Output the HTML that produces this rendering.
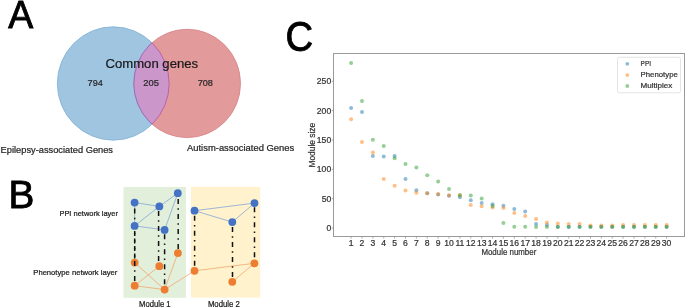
<!DOCTYPE html>
<html><head><meta charset="utf-8"><style>
html,body{margin:0;padding:0;background:#fff;width:685px;height:308px;overflow:hidden}
svg{display:block;font-family:"Liberation Sans", sans-serif}
text{-webkit-font-smoothing:antialiased}
svg{will-change:transform}
</style></head><body>
<svg width="685" height="308" viewBox="0 0 685 308">
<text x="8.3" y="28.2" font-size="39.6" fill="#000" stroke="#000" stroke-width="0.9" textLength="25.0" lengthAdjust="spacingAndGlyphs">A</text>
<ellipse cx="113.25" cy="83.5" rx="55.9" ry="56.65" fill="#9fc5e0" stroke="#86b3d6" stroke-width="0.9"/>
<ellipse cx="187.15" cy="83.45" rx="53.35" ry="54.15" fill="#e39a9b" stroke="#d8868b" stroke-width="0.9"/>
<clipPath id="cb"><ellipse cx="113.25" cy="83.5" rx="55.9" ry="56.65" /></clipPath>
<clipPath id="cr"><ellipse cx="187.15" cy="83.45" rx="53.35" ry="54.15" /></clipPath>
<ellipse cx="187.15" cy="83.45" rx="53.35" ry="54.15" fill="#cb97cb" clip-path="url(#cb)"/>
<g clip-path="url(#cb)"><ellipse cx="187.15" cy="83.45" rx="53.35" ry="54.15" fill="none" stroke="#8a6cc6" stroke-width="0.9"/></g>
<g clip-path="url(#cr)"><ellipse cx="113.25" cy="83.5" rx="55.9" ry="56.65" fill="none" stroke="#b95aa6" stroke-width="0.9"/></g>
<text x="105.5" y="67.7" font-size="12" fill="#1a1a1a" text-anchor="start" textLength="92.6" lengthAdjust="spacingAndGlyphs" stroke="#1a1a1a" stroke-width="0.22" >Common genes</text>
<text x="87.6" y="86.1" font-size="8.9" fill="#262626" text-anchor="start" textLength="15.2" lengthAdjust="spacingAndGlyphs" stroke="#262626" stroke-width="0.22" >794</text>
<text x="143.3" y="86.1" font-size="8.9" fill="#262626" text-anchor="start" textLength="15.6" lengthAdjust="spacingAndGlyphs" stroke="#262626" stroke-width="0.22" >205</text>
<text x="197.7" y="86.1" font-size="8.9" fill="#262626" text-anchor="start" textLength="15.2" lengthAdjust="spacingAndGlyphs" stroke="#262626" stroke-width="0.22" >708</text>
<text x="0.6" y="152.9" font-size="9" fill="#262626" text-anchor="start" textLength="112.4" lengthAdjust="spacingAndGlyphs" stroke="#262626" stroke-width="0.22" >Epilepsy-associated Genes</text>
<text x="187.0" y="150.6" font-size="9" fill="#262626" text-anchor="start" textLength="107.2" lengthAdjust="spacingAndGlyphs" stroke="#262626" stroke-width="0.22" >Autism-associated Genes</text>
<text x="8.5" y="208.2" font-size="38.8" fill="#000" stroke="#000" stroke-width="0.9">B</text>
<rect x="123.5" y="186.9" width="62.4" height="110.9" fill="#e2efda"/>
<rect x="191.05" y="186.9" width="69.2" height="110.7" fill="#fff2cc"/>
<text x="59.4" y="215.7" font-size="7.6" fill="#1a1a1a" text-anchor="start" textLength="58.6" lengthAdjust="spacingAndGlyphs" stroke="#1a1a1a" stroke-width="0.22" >PPI network layer</text>
<text x="33.3" y="274.8" font-size="7.6" fill="#1a1a1a" text-anchor="start" textLength="84.0" lengthAdjust="spacingAndGlyphs" stroke="#1a1a1a" stroke-width="0.22" >Phenotype network layer</text>
<text x="139.0" y="306.6" font-size="8.6" fill="#1a1a1a" text-anchor="start" textLength="31.6" lengthAdjust="spacingAndGlyphs" stroke="#1a1a1a" stroke-width="0.22" >Module 1</text>
<text x="207.9" y="306.7" font-size="8.6" fill="#1a1a1a" text-anchor="start" textLength="32.0" lengthAdjust="spacingAndGlyphs" stroke="#1a1a1a" stroke-width="0.22" >Module 2</text>
<line x1="134.6" y1="202.6" x2="159.35" y2="206.4" stroke="#7fa2d8" stroke-width="0.75"/>
<line x1="159.35" y1="206.4" x2="177.8" y2="193.2" stroke="#7fa2d8" stroke-width="0.75"/>
<line x1="134.6" y1="202.6" x2="134.6" y2="225.9" stroke="#7fa2d8" stroke-width="0.75"/>
<line x1="159.35" y1="206.4" x2="134.6" y2="225.9" stroke="#7fa2d8" stroke-width="0.75"/>
<line x1="134.6" y1="225.9" x2="164.6" y2="229.9" stroke="#7fa2d8" stroke-width="0.75"/>
<line x1="177.8" y1="193.2" x2="164.6" y2="229.9" stroke="#7fa2d8" stroke-width="0.75"/>
<line x1="194.5" y1="210.7" x2="254.5" y2="203.1" stroke="#7fa2d8" stroke-width="0.75"/>
<line x1="194.5" y1="210.7" x2="232.3" y2="222.1" stroke="#7fa2d8" stroke-width="0.75"/>
<line x1="232.3" y1="222.1" x2="254.5" y2="203.1" stroke="#7fa2d8" stroke-width="0.75"/>
<line x1="134.7" y1="262.6" x2="164.6" y2="289.6" stroke="#f0a46c" stroke-width="0.75"/>
<line x1="134.7" y1="285.7" x2="159.3" y2="266.2" stroke="#f0a46c" stroke-width="0.75"/>
<line x1="134.7" y1="285.7" x2="164.6" y2="289.6" stroke="#f0a46c" stroke-width="0.75"/>
<line x1="177.9" y1="253.1" x2="164.6" y2="289.6" stroke="#f0a46c" stroke-width="0.75"/>
<line x1="164.6" y1="289.6" x2="194.5" y2="270.8" stroke="#f0a46c" stroke-width="0.75"/>
<line x1="194.5" y1="270.8" x2="254.4" y2="263.3" stroke="#f0a46c" stroke-width="0.75"/>
<line x1="232.3" y1="281.8" x2="254.4" y2="263.3" stroke="#f0a46c" stroke-width="0.75"/>
<line x1="134.7" y1="208.4" x2="134.7" y2="262.6" stroke="#111" stroke-width="1.5" stroke-dasharray="5 4.25 1.5 4.25" stroke-dashoffset="0.00"/>
<line x1="134.7" y1="231.0" x2="134.7" y2="285.7" stroke="#111" stroke-width="1.5" stroke-dasharray="5 4.25 1.5 4.25" stroke-dashoffset="0.00"/>
<line x1="158.6" y1="211.1" x2="158.6" y2="266.2" stroke="#111" stroke-width="1.5" stroke-dasharray="5 4.25 1.5 4.25" stroke-dashoffset="0.00"/>
<line x1="178.2" y1="199.1" x2="178.2" y2="253.1" stroke="#111" stroke-width="1.5" stroke-dasharray="5 4.25 1.5 4.25" stroke-dashoffset="0.00"/>
<line x1="164.6" y1="234.2" x2="164.6" y2="289.6" stroke="#111" stroke-width="1.5" stroke-dasharray="5 4.25 1.5 4.25" stroke-dashoffset="0.00"/>
<line x1="194.6" y1="215.7" x2="194.6" y2="270.8" stroke="#111" stroke-width="1.5" stroke-dasharray="5 4.25 1.5 4.25" stroke-dashoffset="0.00"/>
<line x1="232.5" y1="227.1" x2="232.5" y2="281.8" stroke="#111" stroke-width="1.5" stroke-dasharray="5 4.25 1.5 4.25" stroke-dashoffset="0.00"/>
<line x1="254.5" y1="207.3" x2="254.5" y2="263.3" stroke="#111" stroke-width="1.5" stroke-dasharray="5 4.25 1.5 4.25" stroke-dashoffset="0.00"/>
<circle cx="134.7" cy="262.6" r="3.9" fill="#ed7d31"/>
<circle cx="159.3" cy="266.2" r="3.9" fill="#ed7d31"/>
<circle cx="177.9" cy="253.1" r="3.9" fill="#ed7d31"/>
<circle cx="134.7" cy="285.7" r="3.9" fill="#ed7d31"/>
<circle cx="164.6" cy="289.6" r="3.9" fill="#ed7d31"/>
<circle cx="194.5" cy="270.8" r="3.9" fill="#ed7d31"/>
<circle cx="232.3" cy="281.8" r="3.9" fill="#ed7d31"/>
<circle cx="254.4" cy="263.3" r="3.9" fill="#ed7d31"/>
<line x1="134.7" y1="258.0" x2="134.7" y2="267.0" stroke="#111" stroke-width="1.5" stroke-dasharray="5 4.25 1.5 4.25" stroke-dashoffset="12.00"/>
<circle cx="134.6" cy="202.6" r="3.9" fill="#4472c4"/>
<circle cx="159.35" cy="206.4" r="3.9" fill="#4472c4"/>
<circle cx="177.8" cy="193.2" r="3.9" fill="#4472c4"/>
<circle cx="134.6" cy="225.9" r="3.9" fill="#4472c4"/>
<circle cx="164.6" cy="229.9" r="3.9" fill="#4472c4"/>
<circle cx="194.5" cy="210.7" r="3.9" fill="#4472c4"/>
<circle cx="232.3" cy="222.1" r="3.9" fill="#4472c4"/>
<circle cx="254.5" cy="203.1" r="3.9" fill="#4472c4"/>
<text x="285.4" y="50.8" font-size="42.2" fill="#000" stroke="#000" stroke-width="0.9" textLength="27.6" lengthAdjust="spacingAndGlyphs">C</text>
<rect x="333.5" y="53.5" width="351" height="183" fill="none" stroke="#9a9a9a" stroke-width="1"/>
<line x1="331.8" y1="228.00" x2="333.5" y2="228.00" stroke="#888" stroke-width="0.8"/>
<text x="331.2" y="230.9" font-size="8.6" fill="#333" text-anchor="end" stroke="#333" stroke-width="0.22" >0</text>
<line x1="331.8" y1="198.66" x2="333.5" y2="198.66" stroke="#888" stroke-width="0.8"/>
<text x="331.2" y="201.56" font-size="8.6" fill="#333" text-anchor="end" stroke="#333" stroke-width="0.22" >50</text>
<line x1="331.8" y1="169.32" x2="333.5" y2="169.32" stroke="#888" stroke-width="0.8"/>
<text x="331.2" y="172.22" font-size="8.6" fill="#333" text-anchor="end" stroke="#333" stroke-width="0.22" >100</text>
<line x1="331.8" y1="139.98" x2="333.5" y2="139.98" stroke="#888" stroke-width="0.8"/>
<text x="331.2" y="142.88000000000002" font-size="8.6" fill="#333" text-anchor="end" stroke="#333" stroke-width="0.22" >150</text>
<line x1="331.8" y1="110.64" x2="333.5" y2="110.64" stroke="#888" stroke-width="0.8"/>
<text x="331.2" y="113.54" font-size="8.6" fill="#333" text-anchor="end" stroke="#333" stroke-width="0.22" >200</text>
<line x1="331.8" y1="81.30" x2="333.5" y2="81.30" stroke="#888" stroke-width="0.8"/>
<text x="331.2" y="84.20000000000002" font-size="8.6" fill="#333" text-anchor="end" stroke="#333" stroke-width="0.22" >250</text>
<line x1="351.10" y1="236.5" x2="351.10" y2="238.6" stroke="#999" stroke-width="0.8"/>
<text x="351.1" y="245.9" font-size="8.6" fill="#333" text-anchor="middle" stroke="#333" stroke-width="0.22" >1</text>
<line x1="361.98" y1="236.5" x2="361.98" y2="238.6" stroke="#999" stroke-width="0.8"/>
<text x="361.98" y="245.9" font-size="8.6" fill="#333" text-anchor="middle" stroke="#333" stroke-width="0.22" >2</text>
<line x1="372.86" y1="236.5" x2="372.86" y2="238.6" stroke="#999" stroke-width="0.8"/>
<text x="372.86" y="245.9" font-size="8.6" fill="#333" text-anchor="middle" stroke="#333" stroke-width="0.22" >3</text>
<line x1="383.74" y1="236.5" x2="383.74" y2="238.6" stroke="#999" stroke-width="0.8"/>
<text x="383.74" y="245.9" font-size="8.6" fill="#333" text-anchor="middle" stroke="#333" stroke-width="0.22" >4</text>
<line x1="394.62" y1="236.5" x2="394.62" y2="238.6" stroke="#999" stroke-width="0.8"/>
<text x="394.62" y="245.9" font-size="8.6" fill="#333" text-anchor="middle" stroke="#333" stroke-width="0.22" >5</text>
<line x1="405.50" y1="236.5" x2="405.50" y2="238.6" stroke="#999" stroke-width="0.8"/>
<text x="405.5" y="245.9" font-size="8.6" fill="#333" text-anchor="middle" stroke="#333" stroke-width="0.22" >6</text>
<line x1="416.38" y1="236.5" x2="416.38" y2="238.6" stroke="#999" stroke-width="0.8"/>
<text x="416.38" y="245.9" font-size="8.6" fill="#333" text-anchor="middle" stroke="#333" stroke-width="0.22" >7</text>
<line x1="427.26" y1="236.5" x2="427.26" y2="238.6" stroke="#999" stroke-width="0.8"/>
<text x="427.26" y="245.9" font-size="8.6" fill="#333" text-anchor="middle" stroke="#333" stroke-width="0.22" >8</text>
<line x1="438.14" y1="236.5" x2="438.14" y2="238.6" stroke="#999" stroke-width="0.8"/>
<text x="438.14" y="245.9" font-size="8.6" fill="#333" text-anchor="middle" stroke="#333" stroke-width="0.22" >9</text>
<line x1="449.02" y1="236.5" x2="449.02" y2="238.6" stroke="#999" stroke-width="0.8"/>
<text x="449.02" y="245.9" font-size="8.6" fill="#333" text-anchor="middle" stroke="#333" stroke-width="0.22" >10</text>
<line x1="459.90" y1="236.5" x2="459.90" y2="238.6" stroke="#999" stroke-width="0.8"/>
<text x="459.9" y="245.9" font-size="8.6" fill="#333" text-anchor="middle" stroke="#333" stroke-width="0.22" >11</text>
<line x1="470.78" y1="236.5" x2="470.78" y2="238.6" stroke="#999" stroke-width="0.8"/>
<text x="470.78" y="245.9" font-size="8.6" fill="#333" text-anchor="middle" stroke="#333" stroke-width="0.22" >12</text>
<line x1="481.66" y1="236.5" x2="481.66" y2="238.6" stroke="#999" stroke-width="0.8"/>
<text x="481.66" y="245.9" font-size="8.6" fill="#333" text-anchor="middle" stroke="#333" stroke-width="0.22" >13</text>
<line x1="492.54" y1="236.5" x2="492.54" y2="238.6" stroke="#999" stroke-width="0.8"/>
<text x="492.54" y="245.9" font-size="8.6" fill="#333" text-anchor="middle" stroke="#333" stroke-width="0.22" >14</text>
<line x1="503.42" y1="236.5" x2="503.42" y2="238.6" stroke="#999" stroke-width="0.8"/>
<text x="503.42" y="245.9" font-size="8.6" fill="#333" text-anchor="middle" stroke="#333" stroke-width="0.22" >15</text>
<line x1="514.30" y1="236.5" x2="514.30" y2="238.6" stroke="#999" stroke-width="0.8"/>
<text x="514.3" y="245.9" font-size="8.6" fill="#333" text-anchor="middle" stroke="#333" stroke-width="0.22" >16</text>
<line x1="525.18" y1="236.5" x2="525.18" y2="238.6" stroke="#999" stroke-width="0.8"/>
<text x="525.18" y="245.9" font-size="8.6" fill="#333" text-anchor="middle" stroke="#333" stroke-width="0.22" >17</text>
<line x1="536.06" y1="236.5" x2="536.06" y2="238.6" stroke="#999" stroke-width="0.8"/>
<text x="536.06" y="245.9" font-size="8.6" fill="#333" text-anchor="middle" stroke="#333" stroke-width="0.22" >18</text>
<line x1="546.94" y1="236.5" x2="546.94" y2="238.6" stroke="#999" stroke-width="0.8"/>
<text x="546.94" y="245.9" font-size="8.6" fill="#333" text-anchor="middle" stroke="#333" stroke-width="0.22" >19</text>
<line x1="557.82" y1="236.5" x2="557.82" y2="238.6" stroke="#999" stroke-width="0.8"/>
<text x="557.82" y="245.9" font-size="8.6" fill="#333" text-anchor="middle" stroke="#333" stroke-width="0.22" >20</text>
<line x1="568.70" y1="236.5" x2="568.70" y2="238.6" stroke="#999" stroke-width="0.8"/>
<text x="568.7" y="245.9" font-size="8.6" fill="#333" text-anchor="middle" stroke="#333" stroke-width="0.22" >21</text>
<line x1="579.58" y1="236.5" x2="579.58" y2="238.6" stroke="#999" stroke-width="0.8"/>
<text x="579.58" y="245.9" font-size="8.6" fill="#333" text-anchor="middle" stroke="#333" stroke-width="0.22" >22</text>
<line x1="590.46" y1="236.5" x2="590.46" y2="238.6" stroke="#999" stroke-width="0.8"/>
<text x="590.46" y="245.9" font-size="8.6" fill="#333" text-anchor="middle" stroke="#333" stroke-width="0.22" >23</text>
<line x1="601.34" y1="236.5" x2="601.34" y2="238.6" stroke="#999" stroke-width="0.8"/>
<text x="601.34" y="245.9" font-size="8.6" fill="#333" text-anchor="middle" stroke="#333" stroke-width="0.22" >24</text>
<line x1="612.22" y1="236.5" x2="612.22" y2="238.6" stroke="#999" stroke-width="0.8"/>
<text x="612.22" y="245.9" font-size="8.6" fill="#333" text-anchor="middle" stroke="#333" stroke-width="0.22" >25</text>
<line x1="623.10" y1="236.5" x2="623.10" y2="238.6" stroke="#999" stroke-width="0.8"/>
<text x="623.1" y="245.9" font-size="8.6" fill="#333" text-anchor="middle" stroke="#333" stroke-width="0.22" >26</text>
<line x1="633.98" y1="236.5" x2="633.98" y2="238.6" stroke="#999" stroke-width="0.8"/>
<text x="633.98" y="245.9" font-size="8.6" fill="#333" text-anchor="middle" stroke="#333" stroke-width="0.22" >27</text>
<line x1="644.86" y1="236.5" x2="644.86" y2="238.6" stroke="#999" stroke-width="0.8"/>
<text x="644.86" y="245.9" font-size="8.6" fill="#333" text-anchor="middle" stroke="#333" stroke-width="0.22" >28</text>
<line x1="655.74" y1="236.5" x2="655.74" y2="238.6" stroke="#999" stroke-width="0.8"/>
<text x="655.74" y="245.9" font-size="8.6" fill="#333" text-anchor="middle" stroke="#333" stroke-width="0.22" >29</text>
<line x1="666.62" y1="236.5" x2="666.62" y2="238.6" stroke="#999" stroke-width="0.8"/>
<text x="666.62" y="245.9" font-size="8.6" fill="#333" text-anchor="middle" stroke="#333" stroke-width="0.22" >30</text>
<text x="481.4" y="254.8" font-size="8.3" fill="#333" text-anchor="start" textLength="54.9" lengthAdjust="spacingAndGlyphs" stroke="#333" stroke-width="0.22" >Module number</text>
<text x="0" y="0" font-size="8.3" fill="#333" stroke="#333" stroke-width="0.22" textLength="44.6" lengthAdjust="spacingAndGlyphs" transform="translate(315.4 167.5) rotate(-90)">Module size</text>
<circle cx="351.10" cy="108.00" r="2.0" fill="#1f77b4" fill-opacity="0.5"/>
<circle cx="361.98" cy="112.11" r="2.0" fill="#1f77b4" fill-opacity="0.5"/>
<circle cx="372.86" cy="156.00" r="2.0" fill="#1f77b4" fill-opacity="0.5"/>
<circle cx="383.74" cy="156.59" r="2.0" fill="#1f77b4" fill-opacity="0.5"/>
<circle cx="394.62" cy="156.12" r="2.0" fill="#1f77b4" fill-opacity="0.5"/>
<circle cx="405.50" cy="178.88" r="2.0" fill="#1f77b4" fill-opacity="0.5"/>
<circle cx="416.38" cy="190.15" r="2.0" fill="#1f77b4" fill-opacity="0.5"/>
<circle cx="427.26" cy="193.32" r="2.0" fill="#1f77b4" fill-opacity="0.5"/>
<circle cx="438.14" cy="194.55" r="2.0" fill="#1f77b4" fill-opacity="0.5"/>
<circle cx="449.02" cy="195.73" r="2.0" fill="#1f77b4" fill-opacity="0.5"/>
<circle cx="459.90" cy="197.19" r="2.0" fill="#1f77b4" fill-opacity="0.5"/>
<circle cx="470.78" cy="200.30" r="2.0" fill="#1f77b4" fill-opacity="0.5"/>
<circle cx="481.66" cy="203.00" r="2.0" fill="#1f77b4" fill-opacity="0.5"/>
<circle cx="492.54" cy="204.29" r="2.0" fill="#1f77b4" fill-opacity="0.5"/>
<circle cx="503.42" cy="205.70" r="2.0" fill="#1f77b4" fill-opacity="0.5"/>
<circle cx="514.30" cy="208.99" r="2.0" fill="#1f77b4" fill-opacity="0.5"/>
<circle cx="525.18" cy="211.39" r="2.0" fill="#1f77b4" fill-opacity="0.5"/>
<circle cx="536.06" cy="224.01" r="2.0" fill="#1f77b4" fill-opacity="0.5"/>
<circle cx="546.94" cy="225.12" r="2.0" fill="#1f77b4" fill-opacity="0.5"/>
<circle cx="557.82" cy="226.71" r="2.0" fill="#1f77b4" fill-opacity="0.5"/>
<circle cx="568.70" cy="226.71" r="2.0" fill="#1f77b4" fill-opacity="0.5"/>
<circle cx="579.58" cy="226.71" r="2.0" fill="#1f77b4" fill-opacity="0.5"/>
<circle cx="590.46" cy="226.71" r="2.0" fill="#1f77b4" fill-opacity="0.5"/>
<circle cx="601.34" cy="226.71" r="2.0" fill="#1f77b4" fill-opacity="0.5"/>
<circle cx="612.22" cy="226.71" r="2.0" fill="#1f77b4" fill-opacity="0.5"/>
<circle cx="623.10" cy="226.71" r="2.0" fill="#1f77b4" fill-opacity="0.5"/>
<circle cx="633.98" cy="226.71" r="2.0" fill="#1f77b4" fill-opacity="0.5"/>
<circle cx="644.86" cy="226.71" r="2.0" fill="#1f77b4" fill-opacity="0.5"/>
<circle cx="655.74" cy="226.71" r="2.0" fill="#1f77b4" fill-opacity="0.5"/>
<circle cx="666.62" cy="226.71" r="2.0" fill="#1f77b4" fill-opacity="0.5"/>
<circle cx="351.10" cy="119.15" r="2.0" fill="#ff7f0e" fill-opacity="0.5"/>
<circle cx="361.98" cy="141.92" r="2.0" fill="#ff7f0e" fill-opacity="0.5"/>
<circle cx="372.86" cy="152.42" r="2.0" fill="#ff7f0e" fill-opacity="0.5"/>
<circle cx="383.74" cy="178.88" r="2.0" fill="#ff7f0e" fill-opacity="0.5"/>
<circle cx="394.62" cy="185.75" r="2.0" fill="#ff7f0e" fill-opacity="0.5"/>
<circle cx="405.50" cy="190.44" r="2.0" fill="#ff7f0e" fill-opacity="0.5"/>
<circle cx="416.38" cy="192.85" r="2.0" fill="#ff7f0e" fill-opacity="0.5"/>
<circle cx="427.26" cy="193.32" r="2.0" fill="#ff7f0e" fill-opacity="0.5"/>
<circle cx="438.14" cy="194.02" r="2.0" fill="#ff7f0e" fill-opacity="0.5"/>
<circle cx="449.02" cy="195.14" r="2.0" fill="#ff7f0e" fill-opacity="0.5"/>
<circle cx="459.90" cy="195.14" r="2.0" fill="#ff7f0e" fill-opacity="0.5"/>
<circle cx="470.78" cy="205.00" r="2.0" fill="#ff7f0e" fill-opacity="0.5"/>
<circle cx="481.66" cy="206.29" r="2.0" fill="#ff7f0e" fill-opacity="0.5"/>
<circle cx="492.54" cy="207.40" r="2.0" fill="#ff7f0e" fill-opacity="0.5"/>
<circle cx="503.42" cy="208.11" r="2.0" fill="#ff7f0e" fill-opacity="0.5"/>
<circle cx="514.30" cy="213.10" r="2.0" fill="#ff7f0e" fill-opacity="0.5"/>
<circle cx="525.18" cy="216.09" r="2.0" fill="#ff7f0e" fill-opacity="0.5"/>
<circle cx="536.06" cy="219.02" r="2.0" fill="#ff7f0e" fill-opacity="0.5"/>
<circle cx="546.94" cy="222.60" r="2.0" fill="#ff7f0e" fill-opacity="0.5"/>
<circle cx="557.82" cy="223.60" r="2.0" fill="#ff7f0e" fill-opacity="0.5"/>
<circle cx="568.70" cy="224.01" r="2.0" fill="#ff7f0e" fill-opacity="0.5"/>
<circle cx="579.58" cy="224.01" r="2.0" fill="#ff7f0e" fill-opacity="0.5"/>
<circle cx="590.46" cy="225.42" r="2.0" fill="#ff7f0e" fill-opacity="0.5"/>
<circle cx="601.34" cy="225.42" r="2.0" fill="#ff7f0e" fill-opacity="0.5"/>
<circle cx="612.22" cy="225.42" r="2.0" fill="#ff7f0e" fill-opacity="0.5"/>
<circle cx="623.10" cy="225.07" r="2.0" fill="#ff7f0e" fill-opacity="0.5"/>
<circle cx="633.98" cy="225.07" r="2.0" fill="#ff7f0e" fill-opacity="0.5"/>
<circle cx="644.86" cy="225.07" r="2.0" fill="#ff7f0e" fill-opacity="0.5"/>
<circle cx="655.74" cy="225.07" r="2.0" fill="#ff7f0e" fill-opacity="0.5"/>
<circle cx="666.62" cy="225.07" r="2.0" fill="#ff7f0e" fill-opacity="0.5"/>
<circle cx="351.10" cy="63.11" r="2.0" fill="#2ca02c" fill-opacity="0.5"/>
<circle cx="361.98" cy="100.90" r="2.0" fill="#2ca02c" fill-opacity="0.5"/>
<circle cx="372.86" cy="139.63" r="2.0" fill="#2ca02c" fill-opacity="0.5"/>
<circle cx="383.74" cy="145.91" r="2.0" fill="#2ca02c" fill-opacity="0.5"/>
<circle cx="394.62" cy="158.29" r="2.0" fill="#2ca02c" fill-opacity="0.5"/>
<circle cx="405.50" cy="164.04" r="2.0" fill="#2ca02c" fill-opacity="0.5"/>
<circle cx="416.38" cy="167.56" r="2.0" fill="#2ca02c" fill-opacity="0.5"/>
<circle cx="427.26" cy="175.25" r="2.0" fill="#2ca02c" fill-opacity="0.5"/>
<circle cx="438.14" cy="181.58" r="2.0" fill="#2ca02c" fill-opacity="0.5"/>
<circle cx="449.02" cy="189.10" r="2.0" fill="#2ca02c" fill-opacity="0.5"/>
<circle cx="459.90" cy="195.14" r="2.0" fill="#2ca02c" fill-opacity="0.5"/>
<circle cx="470.78" cy="195.43" r="2.0" fill="#2ca02c" fill-opacity="0.5"/>
<circle cx="481.66" cy="198.43" r="2.0" fill="#2ca02c" fill-opacity="0.5"/>
<circle cx="492.54" cy="206.00" r="2.0" fill="#2ca02c" fill-opacity="0.5"/>
<circle cx="503.42" cy="223.07" r="2.0" fill="#2ca02c" fill-opacity="0.5"/>
<circle cx="514.30" cy="226.71" r="2.0" fill="#2ca02c" fill-opacity="0.5"/>
<circle cx="525.18" cy="226.71" r="2.0" fill="#2ca02c" fill-opacity="0.5"/>
<circle cx="536.06" cy="227.12" r="2.0" fill="#2ca02c" fill-opacity="0.5"/>
<circle cx="546.94" cy="227.12" r="2.0" fill="#2ca02c" fill-opacity="0.5"/>
<circle cx="557.82" cy="227.12" r="2.0" fill="#2ca02c" fill-opacity="0.5"/>
<circle cx="568.70" cy="227.12" r="2.0" fill="#2ca02c" fill-opacity="0.5"/>
<circle cx="579.58" cy="227.12" r="2.0" fill="#2ca02c" fill-opacity="0.5"/>
<circle cx="590.46" cy="227.12" r="2.0" fill="#2ca02c" fill-opacity="0.5"/>
<circle cx="601.34" cy="227.12" r="2.0" fill="#2ca02c" fill-opacity="0.5"/>
<circle cx="612.22" cy="227.12" r="2.0" fill="#2ca02c" fill-opacity="0.5"/>
<circle cx="623.10" cy="227.12" r="2.0" fill="#2ca02c" fill-opacity="0.5"/>
<circle cx="633.98" cy="227.12" r="2.0" fill="#2ca02c" fill-opacity="0.5"/>
<circle cx="644.86" cy="227.12" r="2.0" fill="#2ca02c" fill-opacity="0.5"/>
<circle cx="655.74" cy="227.12" r="2.0" fill="#2ca02c" fill-opacity="0.5"/>
<circle cx="666.62" cy="227.12" r="2.0" fill="#2ca02c" fill-opacity="0.5"/>
<rect x="617.5" y="57.3" width="63" height="35.5" rx="2" fill="#fff" fill-opacity="0.8" stroke="#ddd" stroke-width="0.8"/>
<circle cx="627.3" cy="63.8" r="1.9" fill="#1f77b4" fill-opacity="0.5"/>
<text x="640.6" y="65.89999999999999" font-size="7.4" fill="#333" text-anchor="start" textLength="10.4" lengthAdjust="spacingAndGlyphs" stroke="#333" stroke-width="0.22" >PPI</text>
<circle cx="627.3" cy="75.1" r="1.9" fill="#ff7f0e" fill-opacity="0.5"/>
<text x="640.6" y="77.19999999999999" font-size="7.4" fill="#333" text-anchor="start" textLength="37.2" lengthAdjust="spacingAndGlyphs" stroke="#333" stroke-width="0.22" >Phenotype</text>
<circle cx="627.3" cy="86.0" r="1.9" fill="#2ca02c" fill-opacity="0.5"/>
<text x="640.6" y="88.1" font-size="7.4" fill="#333" text-anchor="start" textLength="31.8" lengthAdjust="spacingAndGlyphs" stroke="#333" stroke-width="0.22" >Multiplex</text>
</svg>
</body></html>
